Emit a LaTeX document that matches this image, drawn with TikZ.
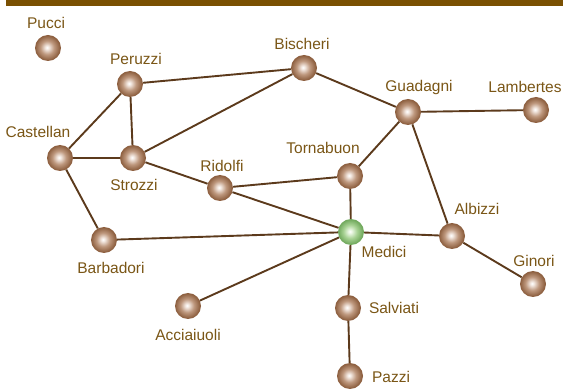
\documentclass[tikz,border=0pt]{standalone}
\usepackage{fontspec}
\setmainfont{Liberation Sans}
\definecolor{barc}{RGB}{122,80,2}
\definecolor{labc}{RGB}{122,86,22}
\definecolor{edgec}{RGB}{92,58,28}
\definecolor{bA}{RGB}{240,228,220}
\definecolor{bB}{RGB}{190,152,126}
\definecolor{bC}{RGB}{140,94,62}
\definecolor{gA}{RGB}{230,244,222}
\definecolor{gB}{RGB}{168,210,148}
\definecolor{gC}{RGB}{112,168,92}
\pgfdeclareradialshading{brownball}{\pgfpoint{-2bp}{1bp}}{color(0bp)=(white); color(4bp)=(bA); color(13bp)=(bB); color(24bp)=(bC); color(50bp)=(bC)}
\pgfdeclareradialshading{greenball}{\pgfpoint{-2bp}{1bp}}{color(0bp)=(white); color(4bp)=(gA); color(13bp)=(gB); color(24bp)=(gC); color(50bp)=(gC)}
\tikzset{
  fam/.style={circle, minimum size=26pt, inner sep=0pt, shading=brownball},
  famg/.style={circle, minimum size=26pt, inner sep=0pt, shading=greenball},
  lab/.style={text=labc, font=\fontsize{15.5}{17}\selectfont, inner sep=0pt},
  tie/.style={draw=edgec, line width=1.9pt}
}
\begin{document}
\begin{tikzpicture}[x=1pt,y=-1pt]
\useasboundingbox (0,0) rectangle (563,390);
\fill[barc] (6,0) rectangle (563,6);
% nodes
\node[fam] (pucci) at (48,48) {};
\node[fam] (peruzzi) at (130,84) {};
\node[fam] (bischeri) at (304,68) {};
\node[fam] (guadagni) at (408,112) {};
\node[fam] (lambertes) at (536,110) {};
\node[fam] (castellan) at (60,158) {};
\node[fam] (strozzi) at (133,158) {};
\node[fam] (ridolfi) at (220,188) {};
\node[fam] (tornabuon) at (350,176) {};
\node[famg] (medici) at (351,232) {};
\node[fam] (albizzi) at (452,236) {};
\node[fam] (ginori) at (533,284) {};
\node[fam] (barbadori) at (104,240) {};
\node[fam] (acciaiuoli) at (188,306) {};
\node[fam] (salviati) at (348,308) {};
\node[fam] (pazzi) at (350,376) {};
% edges
\draw[tie] (peruzzi) -- (bischeri);
\draw[tie] (peruzzi) -- (castellan);
\draw[tie] (peruzzi) -- (strozzi);
\draw[tie] (castellan) -- (strozzi);
\draw[tie] (castellan) -- (barbadori);
\draw[tie] (strozzi) -- (bischeri);
\draw[tie] (strozzi) -- (ridolfi);
\draw[tie] (bischeri) -- (guadagni);
\draw[tie] (guadagni) -- (lambertes);
\draw[tie] (guadagni) -- (tornabuon);
\draw[tie] (guadagni) -- (albizzi);
\draw[tie] (ridolfi) -- (tornabuon);
\draw[tie] (ridolfi) -- (medici);
\draw[tie] (tornabuon) -- (medici);
\draw[tie] (barbadori) -- (medici);
\draw[tie] (medici) -- (albizzi);
\draw[tie] (albizzi) -- (ginori);
\draw[tie] (medici) -- (acciaiuoli);
\draw[tie] (medici) -- (salviati);
\draw[tie] (salviati) -- (pazzi);
% labels
\node[lab] (lpucci) at (46,23) {Pucci};
\node[lab] (lperuzzi) at (136,59) {Peruzzi};
\node[lab] (lbischeri) at (302,44) {Bischeri};
\node[lab] (lguadagni) at (419,87) {Guadagni};
\node[lab] (llambertes) at (525,87) {Lambertes};
\node[lab] (lcastellan) at (38,132) {Castellan};
\node[lab] (lstrozzi) at (134,185) {Strozzi};
\node[lab] (lridolfi) at (222,166) {Ridolfi};
\node[lab] (ltornabuon) at (323,148) {Tornabuon};
\node[lab] (lmedici) at (384,252) {Medici};
\node[lab] (lalbizzi) at (477,209) {Albizzi};
\node[lab] (lginori) at (534,261) {Ginori};
\node[lab] (lbarbadori) at (111,268) {Barbadori};
\node[lab] (lacciaiuoli) at (188,335) {Acciaiuoli};
\node[lab] (lsalviati) at (394,308) {Salviati};
\node[lab] (lpazzi) at (391,377) {Pazzi};
\end{tikzpicture}
\end{document}
